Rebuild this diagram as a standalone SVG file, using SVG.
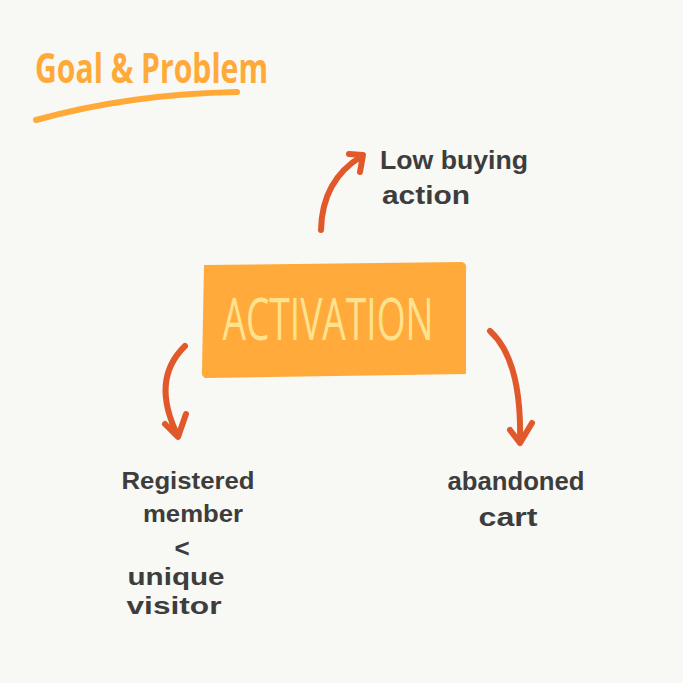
<svg xmlns="http://www.w3.org/2000/svg" width="683" height="683" viewBox="0 0 683 683">
<defs>
<style>
.hand{font-family:"Liberation Sans","Open Sans",sans-serif;fill:#3d3d3d;font-size:26px;font-weight:700;}
.small{font-size:24px;}
.arrow{fill:none;stroke:#e1592b;stroke-width:6;stroke-linecap:round;stroke-linejoin:round;}
.title{font-family:"Open Sans","Liberation Sans",sans-serif;fill:#ffaa38;font-size:42px;font-weight:700;}
</style>
</defs>
<rect width="683" height="683" fill="#f8f8f4"/>
<g id="title">
<text class="title" x="35" y="83" textLength="233" lengthAdjust="spacingAndGlyphs">Goal &amp; Problem</text>
<path d="M36,120 Q130,94 237,92" fill="none" stroke="#ffaa38" stroke-width="6" stroke-linecap="round"/>
</g>
<g id="activation">
<path d="M204,265 L462,262 Q467,263 466,270 L466,374 L205,378 Q201,376 202,370 Z" fill="#ffaa3a"/>
<text x="328" y="340" font-family="Open Sans, Liberation Sans, sans-serif" font-size="58" fill="#ffe28e" text-anchor="middle" textLength="211" lengthAdjust="spacingAndGlyphs">ACTIVATION</text>
</g>
<g id="connectors">
<path class="arrow" d="M321,230 Q322,180 362,156"/>
<path class="arrow" d="M349,154 L363,155 L360,172"/>
<path class="arrow" d="M185,346 Q150,380 178,436"/>
<path class="arrow" d="M165,424 L178,437 L186,414"/>
<path class="arrow" d="M490,331 Q522,360 520,442"/>
<path class="arrow" d="M510,430 L520,443 L532,423"/>
</g>
<g id="low-buying">
<text class="hand" x="380" y="169" textLength="148" lengthAdjust="spacingAndGlyphs">Low buying</text>
<text class="hand" x="382" y="204" textLength="88" lengthAdjust="spacingAndGlyphs">action</text>
</g>
<g id="registered">
<text class="hand small" x="188" y="489" text-anchor="middle" textLength="133" lengthAdjust="spacingAndGlyphs">Registered</text>
<text class="hand small" x="193" y="522" text-anchor="middle" textLength="100" lengthAdjust="spacingAndGlyphs">member</text>
<text class="hand" x="182" y="557" text-anchor="middle" font-size="18">&lt;</text>
<text class="hand small" x="176" y="585" text-anchor="middle" textLength="97" lengthAdjust="spacingAndGlyphs">unique</text>
<text class="hand small" x="174" y="614" text-anchor="middle" textLength="95" lengthAdjust="spacingAndGlyphs">visitor</text>
</g>
<g id="abandoned">
<text class="hand" x="516" y="490" text-anchor="middle" textLength="137" lengthAdjust="spacingAndGlyphs">abandoned</text>
<text class="hand" x="508" y="526" text-anchor="middle" textLength="59" lengthAdjust="spacingAndGlyphs">cart</text>
</g>
</svg>
